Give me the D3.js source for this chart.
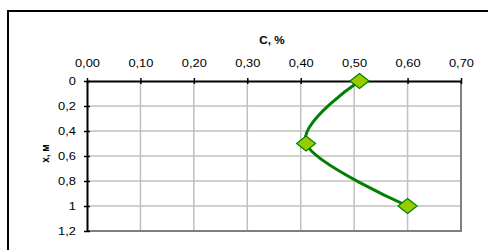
<!DOCTYPE html>
<html>
<head>
<meta charset="utf-8">
<script src="https://cdn.jsdelivr.net/npm/d3@7"></script>
<style>
  html, body { margin: 0; padding: 0; background: #fff; }
  svg { display: block; }
  .lbl { font-family: "Liberation Sans", Arial, sans-serif; font-size: 11px; fill: #000;
         transform-box: fill-box; transform: scaleX(1.17); }
  .xt .lbl { transform-origin: center; }
  .yt .lbl { transform-origin: right center; }
  .title { font-family: "Liberation Sans", Arial, sans-serif; font-size: 10px; font-weight: bold;
           transform-box: fill-box; transform-origin: center; }
</style>
</head>
<body>
<div id="chart"></div>
<script>
// chart values
const depth = [0, 0.5, 1.0];           // x, м
const conc = [0.51, 0.41, 0.60];       // C, %
const xTicks = [0, 0.1, 0.2, 0.3, 0.4, 0.5, 0.6, 0.7];
const yTicks = [0, 0.2, 0.4, 0.6, 0.8, 1.0, 1.2];
const xTitle = 'C, %';
const yTitle = 'x, м';

const W = 488, H = 250;
const plot = { left: 87, right: 461, top: 81, bottom: 231 };

const svg = d3.select('#chart').append('svg')
    .attr('width', W)
    .attr('height', H);

// outer chart border (runs off the right/bottom edge like the original)
svg.append('rect')
    .attr('x', 8).attr('y', 11)
    .attr('width', 500).attr('height', 260)
    .attr('fill', '#fff')
    .attr('stroke', '#000')
    .attr('stroke-width', 2);

const x = d3.scaleLinear().domain([0, 0.7]).range([plot.left, plot.right]);
const y = d3.scaleLinear().domain([0, 1.2]).range([plot.top, plot.bottom]);

const fmtX = d => d3.format('.2f')(d).replace('.', ',');
const fmtY = d => (d === 0 || d === 1) ? String(d) : String(+d.toFixed(1)).replace('.', ',');

// gridlines
const grid = svg.append('g');
grid.selectAll('line.gx')
    .data(xTicks.slice(1, -1))
    .join('line')
    .attr('x1', d => x(d)).attr('x2', d => x(d))
    .attr('y1', plot.top).attr('y2', plot.bottom)
    .attr('stroke', '#c0c0c0').attr('stroke-width', 1.5);
grid.selectAll('line.gy')
    .data(yTicks.slice(1, -1))
    .join('line')
    .attr('x1', plot.left).attr('x2', plot.right)
    .attr('y1', d => y(d)).attr('y2', d => y(d))
    .attr('stroke', '#c0c0c0').attr('stroke-width', 1.5);

// right and bottom plot border (grey)
svg.append('path')
    .attr('d', `M${plot.left},${plot.bottom}H${plot.right}V${plot.top}`)
    .attr('fill', 'none')
    .attr('stroke', '#808080')
    .attr('stroke-width', 2);

// top axis with labels
const xAxis = svg.append('g')
    .attr('class', 'xt')
    .attr('transform', `translate(0,${plot.top})`)
    .call(d3.axisTop(x).tickValues(xTicks).tickFormat(fmtX).tickSizeInner(3).tickSizeOuter(0).tickPadding(11));
svg.append('g')
    .attr('transform', `translate(0,${plot.top})`)
    .call(d3.axisBottom(x).tickValues(xTicks).tickFormat('').tickSizeInner(3).tickSizeOuter(0))
    .call(g => g.select('.domain').remove());

// left axis with labels
const yAxis = svg.append('g')
    .attr('class', 'yt')
    .attr('transform', `translate(${plot.left},0)`)
    .call(d3.axisLeft(y).tickValues(yTicks).tickFormat(fmtY).tickSizeInner(3).tickSizeOuter(0).tickPadding(8));
svg.append('g')
    .attr('transform', `translate(${plot.left},0)`)
    .call(d3.axisRight(y).tickValues(yTicks).tickFormat('').tickSizeInner(3).tickSizeOuter(0))
    .call(g => g.select('.domain').remove());

[xAxis, yAxis].forEach(a => {
    a.select('.domain').attr('stroke', '#000').attr('stroke-width', 2);
    a.selectAll('.tick line').attr('stroke', '#000').attr('stroke-width', 1.5);
    a.selectAll('.tick text').attr('class', 'lbl').attr('font-family', null).attr('font-size', null);
    a.attr('font-family', null).attr('font-size', null);
});
svg.selectAll('.tick line').attr('stroke', '#000').attr('stroke-width', 1.5);

// axis titles
svg.append('text')
    .attr('class', 'title')
    .attr('x', 272).attr('y', 44.5)
    .attr('text-anchor', 'middle')
    .style('transform', 'scaleX(1.17)')
    .text(xTitle);

svg.append('text')
    .attr('class', 'title')
    .attr('transform', `translate(45.5,157) rotate(-90)`)
    .attr('text-anchor', 'middle')
    .text(yTitle);

// smoothed line
const pts = depth.map((d, i) => ({ c: conc[i], d }));
svg.append('path')
    .datum(pts)
    .attr('fill', 'none')
    .attr('stroke', '#008000')
    .attr('stroke-width', 3)
    .attr('d', d3.line().x(p => x(p.c)).y(p => y(p.d)).curve(d3.curveCardinal.tension(0)));

// diamond markers
svg.selectAll('path.mk')
    .data(pts)
    .join('path')
    .attr('class', 'mk')
    .attr('transform', p => `translate(${x(p.c)},${y(p.d)})`)
    .attr('d', 'M0,-7.5L9.5,0L0,7.5L-9.5,0Z')
    .attr('fill', '#99cc00')
    .attr('stroke', '#008000')
    .attr('stroke-width', 1.2);
</script>
</body>
</html>
